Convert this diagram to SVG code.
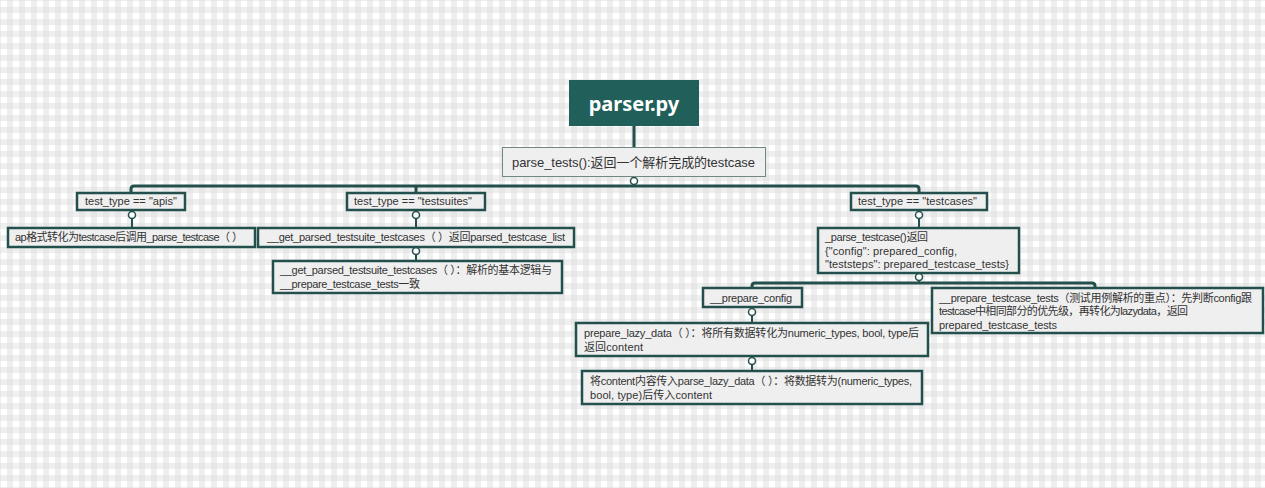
<svg xmlns="http://www.w3.org/2000/svg" width="1265" height="488" viewBox="0 0 1265 488">
<defs>
<pattern id="plaid" width="12" height="12" patternUnits="userSpaceOnUse" x="1" y="1">
<rect width="12" height="12" fill="#ffffff"/>
<rect x="6" y="0" width="6" height="12" fill="#dcdcdc" fill-opacity="0.45"/>
<rect x="0" y="6" width="12" height="6" fill="#dcdcdc" fill-opacity="0.45"/>
</pattern>
<style>
.box{fill:#efefef;stroke:#23504c;stroke-width:2.5}
.t{font-family:"Liberation Sans","Noto Sans CJK SC",sans-serif;font-size:11px;fill:#333333}
.line{fill:none;stroke:#23504c;stroke-width:3}
.thin{fill:none;stroke:#23504c;stroke-width:2}
.dot{fill:#ffffff;stroke:#23504c;stroke-width:1.5}
</style>
</defs>
<rect width="1265" height="488" fill="url(#plaid)"/>

<g id="connectors">
<path class="line" d="M634,126 V147"/>
<path class="thin" d="M634,176 V186"/>
<path class="line" d="M131,193 V189 Q131,186 134,186 H916 Q919,186 919,189 V193"/>
<path class="line" d="M416,186 V193"/>
<path class="thin" d="M132,218 V227"/>
<path class="thin" d="M416,218 V227"/>
<path class="thin" d="M416,254 V261"/>
<path class="thin" d="M919,218 V227"/>
<path class="thin" d="M919,280 V283"/>
<path class="line" d="M752,288 V286 Q752,283 755,283 H1092 Q1095,283 1095,286 V288"/>
<path class="thin" d="M752,315 V323"/>
<path class="thin" d="M752,364 V371"/>
<circle class="dot" cx="634" cy="181" r="3.5"/>
<circle class="dot" cx="132" cy="215" r="3.5"/>
<circle class="dot" cx="416" cy="215" r="3.5"/>
<circle class="dot" cx="416" cy="251" r="3.5"/>
<circle class="dot" cx="919" cy="215" r="3.5"/>
<circle class="dot" cx="919" cy="277" r="3.5"/>
<circle class="dot" cx="752" cy="312" r="3.5"/>
<circle class="dot" cx="752" cy="361" r="3.5"/>
</g>

<g id="root">
<rect x="569" y="80" width="130" height="46" fill="#215f5a"/>
<text x="634" y="111" text-anchor="middle" font-family="'Noto Sans','Liberation Sans',sans-serif" font-size="20" font-weight="bold" fill="#ffffff">parser.py</text>
</g>

<g id="parse_tests">
<rect x="502.5" y="147.5" width="263" height="29" fill="#efefef" stroke="#6f8886" stroke-width="1"/>
<text class="t" x="512" y="167" style="font-size:13px" textLength="243">parse_tests():返回一个解析完成的testcase</text>
</g>

<g id="apis">
<rect class="box" x="77" y="193" width="108" height="17"/>
<text class="t" x="85" y="205" textLength="92">test_type == "apis"</text>
</g>

<g id="apis_child">
<rect class="box" x="8" y="228" width="247" height="19"/>
<text class="t" x="15" y="241" textLength="228">ap格式转化为testcase后调用_parse_testcase（ ）</text>
</g>

<g id="testsuites">
<rect class="box" x="347" y="193" width="138" height="17"/>
<text class="t" x="354" y="205" textLength="118">test_type == "testsuites"</text>
</g>

<g id="testsuites_child">
<rect class="box" x="258" y="228" width="316" height="19"/>
<text class="t" x="267" y="241" textLength="298">__get_parsed_testsuite_testcases（ ）返回parsed_testcase_list</text>
</g>

<g id="testsuites_detail">
<rect class="box" x="273" y="261" width="289" height="32"/>
<text class="t" x="280" y="274" textLength="272">__get_parsed_testsuite_testcases（ ）：解析的基本逻辑与</text>
<text class="t" x="280" y="288" textLength="140">__prepare_testcase_tests一致</text>
</g>

<g id="testcases">
<rect class="box" x="851" y="193" width="136" height="17"/>
<text class="t" x="858" y="205" textLength="119">test_type == "testcases"</text>
</g>

<g id="parse_testcase">
<rect class="box" x="818" y="228" width="201" height="45"/>
<text class="t" x="825" y="241" textLength="103">_parse_testcase()返回</text>
<text class="t" x="825" y="254.5" textLength="132">{"config": prepared_config,</text>
<text class="t" x="825" y="268" textLength="184">"teststeps": prepared_testcase_tests}</text>
</g>

<g id="prepare_config">
<rect class="box" x="703" y="288" width="99" height="19"/>
<text class="t" x="710" y="302" textLength="82">__prepare_config</text>
</g>

<g id="prepare_testcase_tests">
<rect class="box" x="932" y="288" width="331" height="45"/>
<text class="t" x="939" y="301.5" textLength="313">__prepare_testcase_tests（测试用例解析的重点）：先判断config跟</text>
<text class="t" x="939" y="315" textLength="249">testcase中相同部分的优先级，再转化为lazydata，返回</text>
<text class="t" x="939" y="328.5" textLength="118">prepared_testcase_tests</text>
</g>

<g id="prepare_lazy_data">
<rect class="box" x="576" y="323" width="352" height="33"/>
<text class="t" x="584" y="337" textLength="335">prepare_lazy_data（ ）：将所有数据转化为numeric_types, bool, type后</text>
<text class="t" x="584" y="350.5" textLength="59">返回content</text>
</g>

<g id="parse_lazy_data">
<rect class="box" x="582" y="371" width="340" height="33"/>
<text class="t" x="590" y="385" textLength="322">将content内容传入parse_lazy_data（ ）：将数据转为(numeric_types,</text>
<text class="t" x="590" y="398.5" textLength="122">bool, type)后传入content</text>
</g>
</svg>
